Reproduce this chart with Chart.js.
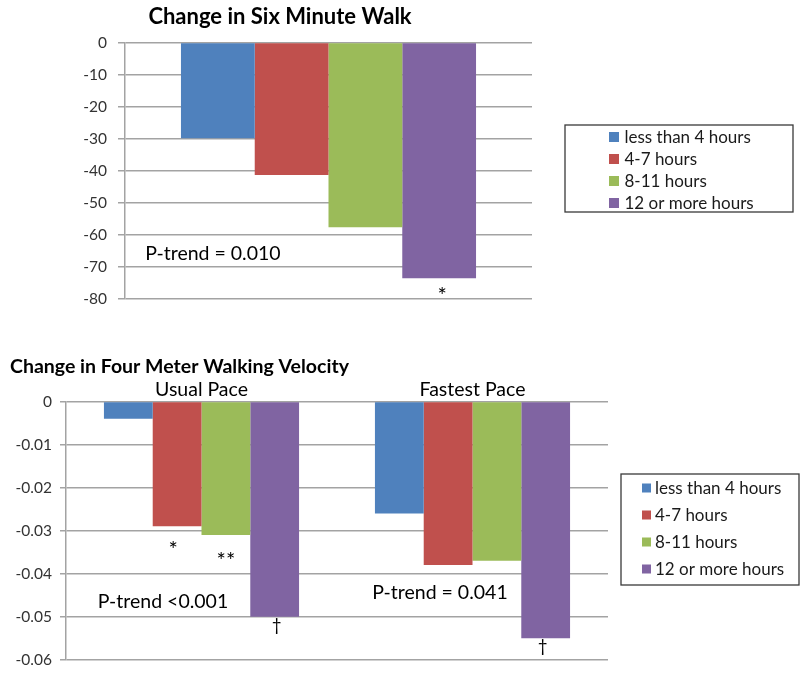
<!DOCTYPE html>
<html>
<head>
<meta charset="utf-8">
<script src="https://cdn.jsdelivr.net/npm/chart.js@4.4.1/dist/chart.umd.min.js"></script>
<style>
  html, body { margin: 0; padding: 0; background: #fff; }
  body { width: 800px; height: 677px; position: relative; overflow: hidden; }
  .panel { position: absolute; left: 0; width: 800px; }
  #walkPanel { top: 0; height: 320px; }
  #velPanel { top: 330px; height: 347px; }
</style>
</head>
<body>
<div class="panel" id="walkPanel"><canvas id="walkChart"></canvas></div>
<div class="panel" id="velPanel"><canvas id="velChart"></canvas></div>
<script>
// Sitting-time groups shared by both panels
const groups = ['less than 4 hours', '4-7 hours', '8-11 hours', '12 or more hours'];
const groupColors = ['#4F81BD', '#C0504D', '#9BBB59', '#8064A2'];

// Six minute walk: change in metres per group
const walkChange = [-29.9, -41.3, -57.6, -73.5];
const walkTicks = [0, -10, -20, -30, -40, -50, -60, -70, -80];
const walkTickLabels = ['0', '-10', '-20', '-30', '-40', '-50', '-60', '-70', '-80'];
const walkTrend = ['P-trend = 0.010'];
// significance marks: [group index, category index, symbol]
const walkMarks = [[3, 0, '*']];

// Four meter walking velocity: change in m/s, per pace
const paceCategories = ['Usual Pace', 'Fastest Pace'];
const velLess4 = [-0.004, -0.026];
const vel4to7 = [-0.029, -0.038];
const vel8to11 = [-0.031, -0.037];
const vel12plus = [-0.050, -0.055];
const velTicks = [0, -0.01, -0.02, -0.03, -0.04, -0.05, -0.06];
const velTickLabels = ['0', '-0.01', '-0.02', '-0.03', '-0.04', '-0.05', '-0.06'];
const velTrend = ['P-trend <0.001', 'P-trend = 0.041'];
const velMarks = [[1, 0, '*'], [2, 0, '**'], [3, 0, '\u2020'], [3, 1, '\u2020']];

const FONT = 'Lato, "Open Sans", sans-serif';
const GRID = '#a3a3a3';

// Draws text so that its inked glyphs are centred on (x, y)
function inkText(ctx, text, x, y) {
  const m = ctx.measureText(text);
  ctx.fillText(text, x, y + (m.actualBoundingBoxAscent - m.actualBoundingBoxDescent) / 2);
}

// Significance symbols under bar ends and the trend p-values
const notesPlugin = {
  id: 'notes',
  afterDatasetsDraw(chart, args, opts) {
    const ctx = chart.ctx;
    ctx.save();
    ctx.fillStyle = '#000';
    ctx.textAlign = 'center';
    ctx.textBaseline = 'alphabetic';
    (opts.marks || []).forEach((mk, i) => {
      const [ds, idx, sym] = mk;
      const bar = chart.getDatasetMeta(ds).data[idx];
      const off = opts.markOffsets[i];
      ctx.font = sym === '\u2020' ? opts.daggerFont : opts.markFont;
      inkText(ctx, sym, bar.x + off[0], bar.y + off[1]);
    });
    const xs = chart.scales.x, ys = chart.scales.y;
    (opts.trend || []).forEach((t, i) => {
      const p = opts.trendAt[i];
      ctx.font = opts.trendFont;
      inkText(ctx, t, xs.getPixelForValue(p[0]), ys.getPixelForValue(p[1]));
    });
    ctx.restore();
  }
};

// Framed legend box beside the plot
const framedLegendPlugin = {
  id: 'framedLegend',
  afterDraw(chart, args, opts) {
    const ctx = chart.ctx;
    ctx.save();
    ctx.strokeStyle = '#3a3a3a';
    ctx.lineWidth = 1.3;
    ctx.strokeRect(opts.box[0], opts.box[1], opts.box[2], opts.box[3]);
    ctx.font = opts.font;
    ctx.textAlign = 'left';
    ctx.textBaseline = 'middle';
    chart.data.datasets.forEach((ds, i) => {
      const cy = opts.rowStart + i * opts.rowGap;
      ctx.fillStyle = ds.backgroundColor;
      ctx.fillRect(opts.swatchX, cy - opts.swatch / 2, opts.swatch, opts.swatch);
      ctx.fillStyle = '#1a1a1a';
      ctx.fillText(ds.label, opts.textX, cy + 1);
    });
    ctx.restore();
  }
};

function fixedTicks(values) {
  return (scale) => { scale.ticks = values.map(v => ({ value: v })); };
}

Chart.defaults.font.family = FONT;

// Upper panel: six minute walk
new Chart(document.getElementById('walkChart'), {
  type: 'bar',
  data: {
    labels: [''],
    datasets: groups.map((g, i) => ({
      label: g,
      data: [walkChange[i]],
      backgroundColor: groupColors[i],
      borderWidth: 0,
      categoryPercentage: 0.725,
      barPercentage: 1
    }))
  },
  plugins: [notesPlugin, framedLegendPlugin],
  options: {
    responsive: true,
    maintainAspectRatio: false,
    animation: false,
    layout: { padding: { left: 28, right: 268, top: 0, bottom: 21 } },
    plugins: {
      legend: { display: false },
      tooltip: { enabled: false },
      title: {
        display: true,
        text: 'Change in Six Minute Walk',
        color: '#000',
        font: { family: FONT, size: 22, weight: 'bold' },
        padding: { top: 3.8, bottom: 12.3 }
      },
      notes: {
        marks: walkMarks,
        markOffsets: [[3, 12.7]],
        markFont: '22px ' + FONT,
        daggerFont: '17px ' + FONT,
        trend: walkTrend,
        trendAt: [[-0.284, -65.7]],
        trendFont: '19.5px ' + FONT
      },
      framedLegend: {
        box: [565, 125, 228, 87],
        swatchX: 609, swatch: 10, textX: 624.5,
        rowStart: 137, rowGap: 22,
        font: '17px ' + FONT
      }
    },
    scales: {
      x: { display: false },
      y: {
        min: -80, max: 0,
        afterBuildTicks: fixedTicks(walkTicks),
        afterFit: (s) => { s.width = 97; },
        ticks: {
          callback: (v) => walkTickLabels[walkTicks.indexOf(v)],
          color: '#333',
          font: { family: FONT, size: 15.5 },
          padding: 11
        },
        grid: { color: GRID, lineWidth: 1.5, tickLength: 7 },
        border: { color: GRID, width: 1.5 }
      }
    }
  }
});

// Lower panel: four meter walking velocity
const velSeries = [velLess4, vel4to7, vel8to11, vel12plus];
new Chart(document.getElementById('velChart'), {
  type: 'bar',
  data: {
    labels: paceCategories,
    datasets: groups.map((g, i) => ({
      label: g,
      data: velSeries[i],
      backgroundColor: groupColors[i],
      borderWidth: 0,
      categoryPercentage: 0.72,
      barPercentage: 1
    }))
  },
  plugins: [notesPlugin, framedLegendPlugin],
  options: {
    responsive: true,
    maintainAspectRatio: false,
    animation: false,
    layout: { padding: { left: 10, right: 192, top: 0, bottom: 14 } },
    plugins: {
      legend: { display: false },
      tooltip: { enabled: false },
      title: {
        display: true,
        align: 'start',
        text: 'Change in Four Meter Walking Velocity',
        color: '#000',
        font: { family: FONT, size: 19.5, weight: 'bold' },
        padding: { top: 25.3, bottom: 0 }
      },
      notes: {
        marks: velMarks,
        markOffsets: [[-4, 18], [0, 20.3], [2, 9.5], [-3, 8.7]],
        markFont: '22px ' + FONT,
        daggerFont: '17px ' + FONT,
        trend: velTrend,
        trendAt: [[-0.142, -0.04644], [0.88, -0.04438]],
        trendFont: '19.5px ' + FONT
      },
      framedLegend: {
        box: [621, 144, 178, 111],
        swatchX: 642, swatch: 9, textX: 655,
        rowStart: 158, rowGap: 27,
        font: '17px ' + FONT
      }
    },
    scales: {
      x: {
        position: 'top',
        afterFit: (s) => { s.height = 22.8; },
        grid: { display: false, drawTicks: false },
        border: { display: false },
        ticks: { color: '#000', font: { family: FONT, size: 19.5 }, padding: 0 }
      },
      y: {
        min: -0.06, max: 0,
        afterBuildTicks: fixedTicks(velTicks),
        afterFit: (s) => { s.width = 56; },
        ticks: {
          callback: (v) => velTickLabels[velTicks.indexOf(v)],
          color: '#333',
          font: { family: FONT, size: 15.5 },
          padding: 8
        },
        grid: { color: GRID, lineWidth: 1.5, tickLength: 6 },
        border: { color: GRID, width: 1.5 }
      }
    }
  }
});
</script>
</body>
</html>
